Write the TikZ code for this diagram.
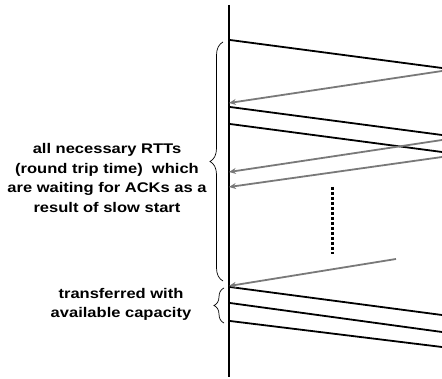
\documentclass[tikz,border=0pt]{standalone}
\usepackage{fontspec}
\setmainfont{Liberation Sans}
\newfontfamily\lblfont[FakeStretch=1.18]{Liberation Sans}
\usetikzlibrary{arrows.meta,decorations.pathreplacing}
\begin{document}
\begin{tikzpicture}[x=1pt,y=-1pt,
  axis/.style={line width=2.6pt,black},
  seg/.style={line width=1.8pt,black},
  ack/.style={line width=1.8pt,color=gray!95!black,-{Stealth[length=7pt,width=6pt]}},
  bracestyle/.style={decorate,decoration={brace,amplitude=#1},line width=0.7pt},
  lbl/.style={font=\lblfont\fontsize{14}{19.7}\selectfont\bfseries,align=center,inner sep=0pt}
]
\useasboundingbox (0,0) rectangle (442,379);
% time axis
\coordinate (axtop) at (229,5);
\coordinate (axbot) at (229,377);
\draw[axis] (axtop) -- (axbot);
% data segments
\coordinate (s1a) at (230,40);  \coordinate (s1b) at (442,68);
\coordinate (s2a) at (230,107); \coordinate (s2b) at (442,135);
\coordinate (s3a) at (230,124); \coordinate (s3b) at (442,152);
\coordinate (s4a) at (230,287); \coordinate (s4b) at (442,315);
\coordinate (s5a) at (230,303); \coordinate (s5b) at (442,332);
\coordinate (s6a) at (230,321); \coordinate (s6b) at (442,347);
\foreach \i in {1,...,6} \draw[seg] (s\i a) -- (s\i b);
% acks
\coordinate (a1a) at (442,71);  \coordinate (a1b) at (229,103);
\coordinate (a2a) at (442,140); \coordinate (a2b) at (229,172);
\coordinate (a3a) at (442,157); \coordinate (a3b) at (229,187);
\coordinate (a4a) at (396,259); \coordinate (a4b) at (229,286);
\foreach \i in {1,...,4} \draw[ack] (a\i a) -- (a\i b);
% dotted continuation
\coordinate (dta) at (332,187);
\coordinate (dtb) at (332,254);
\draw[line width=3pt,dash pattern=on 3pt off 2pt] (dta) -- (dtb);
% braces
\coordinate (b1a) at (223,281); \coordinate (b1b) at (223,42);
\draw[bracestyle=13pt] (b1a) -- (b1b);
\coordinate (b2a) at (224,323); \coordinate (b2b) at (224,288);
\draw[bracestyle=10pt] (b2a) -- (b2b);
% labels
\node[lbl] (t1) at (107,178) {all necessary RTTs\\(round trip time)\ \ which\\are waiting for ACKs as a\\result of slow start};
\node[lbl] (t2) at (121,304.5) {transferred with\\available capacity};
\end{tikzpicture}
\end{document}
